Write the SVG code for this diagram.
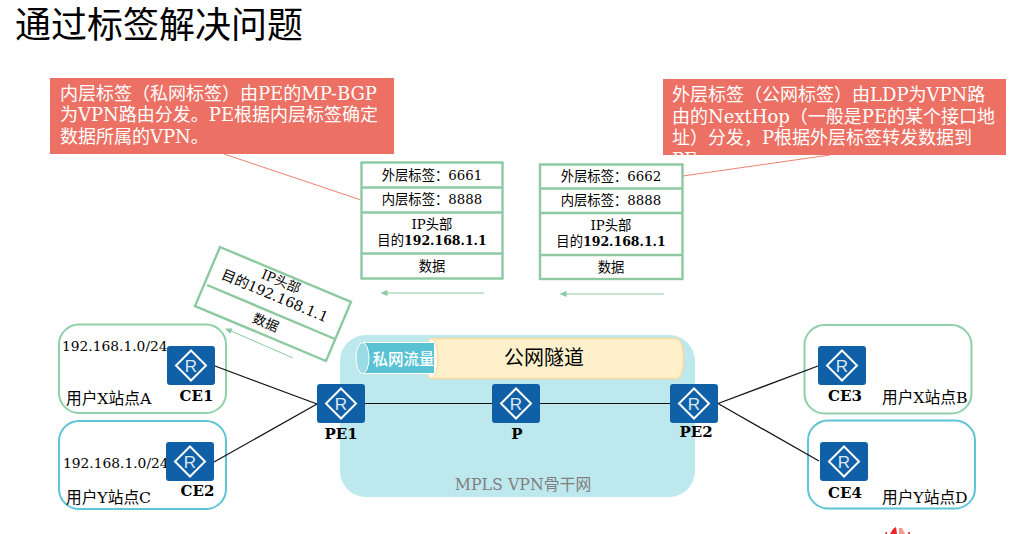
<svg xmlns="http://www.w3.org/2000/svg" width="1027" height="534" viewBox="0 0 1027 534">
<style>
text{font-family:"DejaVu Serif","Noto Sans CJK SC",serif;fill:#000}
.title{font-family:"Noto Sans CJK SC","Noto Sans",sans-serif;font-size:36px}
.call{font-size:18px;fill:#fff}
.cell{font-size:13.33px;text-anchor:middle}
.num{font-size:12.5px;font-weight:bold}
.site{font-size:15.7px}
.ip{font-size:13.8px}
.name{font-size:15px;font-weight:bold;text-anchor:middle}
.rt{fill:#1060a8}
.dia{fill:none;stroke:#fff;stroke-width:2}
.r{font-family:"Liberation Sans",Arial,sans-serif;font-size:17px;fill:#dfe9f5;text-anchor:middle}
.box{fill:#fff;stroke:#8cc9a0;stroke-width:2.4}
.div{stroke:#8cc9a0;stroke-width:2.4;fill:none}
.sg{fill:#fff;stroke:#90d0a8;stroke-width:2}
.sb{fill:#fff;stroke:#5ec4d6;stroke-width:2}
.link{stroke:#111;stroke-width:1.2;fill:none}
.flow{stroke:#8cc9a0;stroke-width:1;fill:none;marker-end:url(#ah)}
</style>
<defs>
<marker id="ah" markerUnits="userSpaceOnUse" markerWidth="7" markerHeight="6" refX="0.5" refY="3" orient="auto"><path d="M7 0L0 3L7 6Z" fill="#8cc9a0" transform="rotate(180 3.5 3)"/></marker>
</defs>

<text class="title" x="15" y="38">通过标签解决问题</text>

<g id="backbone">
<rect x="340" y="335" width="355" height="162" rx="26" fill="#bde8ee"/>
<text x="523" y="490" text-anchor="middle" style="font-size:15.8px;fill:#808080">MPLS VPN骨干网</text>
</g>

<g id="tunnel-public">
<path d="M432 338.500H676C681 338.500 683.500 348 683.500 358.500C683.500 369 681 378.500 676 378.500H432C428 378.500 425.500 369 425.500 358.500C425.500 348 428 338.500 432 338.500Z" fill="#fff0cc" stroke="#fcd999" stroke-width="1.500"/>
<ellipse cx="431.500" cy="358.500" rx="6.500" ry="20" fill="#fffaf0" stroke="#fcd999"/>
<text x="544" y="365" text-anchor="middle" style="font-size:20px">公网隧道</text>
</g>
<g id="tunnel-private">
<path d="M362.500 342.500H434V373.500H362.500Z" fill="#59c3d5"/>
<path d="M362.500 342.500H434M362.500 373.500H434" stroke="#fff" fill="none"/>
<ellipse cx="362.500" cy="358" rx="6.500" ry="15.500" fill="#9bdbe5" stroke="#fff"/>
<text x="403.500" y="365" text-anchor="middle" style="font-size:15.500px;fill:#fff;font-weight:500">私网流量</text>
</g>

<g id="site-a"><rect class="sg" x="59" y="324.500" width="167" height="88.500" rx="20"/>
<text class="ip" x="62" y="351">192.168.1.0/24</text><text class="site" x="66" y="404">用户X站点A</text></g>
<g id="site-c"><rect class="sb" x="59" y="421" width="167" height="88" rx="20"/>
<text class="ip" x="63" y="468">192.168.1.0/24</text><text class="site" x="66" y="503">用户Y站点C</text></g>
<g id="site-b"><rect class="sg" x="804.500" y="325" width="167" height="88.500" rx="20"/>
<text class="site" x="882" y="403">用户X站点B</text></g>
<g id="site-d"><rect class="sb" x="808" y="420.500" width="167" height="88" rx="20"/>
<text class="site" x="882" y="503">用户Y站点D</text></g>

<g id="connectors">
<path class="link" d="M215 366L317 404"/>
<path class="link" d="M214 462L317 404"/>
<path class="link" d="M365 403.500H492"/>
<path class="link" d="M540 403.500H670"/>
<path class="link" d="M718 403.500L818 366"/>
<path class="link" d="M718 403.500L819 461"/>
<path d="M224 154L361 200" stroke="#f08070" stroke-width="1" fill="none"/>
<path d="M683 176L830 155" stroke="#f08070" stroke-width="1" fill="none"/>
<path class="flow" d="M484 293H387"/>
<path class="flow" d="M664 294H566"/>
<path class="flow" d="M293 358L231 331"/>
</g>

<g id="CE1"><rect class="rt" x="167" y="346" width="48" height="39" rx="3"/><path class="dia" d="M191 350.500L206 365.500L191 380.500L176 365.500Z"/><text class="r" x="191" y="371.500">R</text><text class="name" x="196.500" y="401">CE1</text></g>
<g id="CE2"><rect class="rt" x="166" y="442" width="48" height="39" rx="3"/><path class="dia" d="M190 446.500L205 461.500L190 476.500L175 461.500Z"/><text class="r" x="190" y="467.500">R</text><text class="name" x="197.500" y="496">CE2</text></g>
<g id="PE1"><rect class="rt" x="317" y="384" width="48" height="39" rx="3"/><path class="dia" d="M341 388.500L356 403.500L341 418.500L326 403.500Z"/><text class="r" x="341" y="409.500">R</text><text class="name" x="341" y="439">PE1</text></g>
<g id="P"><rect class="rt" x="492" y="384" width="48" height="39" rx="3"/><path class="dia" d="M516 388.500L531 403.500L516 418.500L501 403.500Z"/><text class="r" x="516" y="409.500">R</text><text class="name" x="517" y="439">P</text></g>
<g id="PE2"><rect class="rt" x="670" y="384" width="48" height="39" rx="3"/><path class="dia" d="M694 388.500L709 403.500L694 418.500L679 403.500Z"/><text class="r" x="694" y="409.500">R</text><text class="name" x="696" y="437">PE2</text></g>
<g id="CE3"><rect class="rt" x="818" y="346" width="48" height="39" rx="3"/><path class="dia" d="M842 350.500L857 365.500L842 380.500L827 365.500Z"/><text class="r" x="842" y="371.500">R</text><text class="name" x="845" y="401">CE3</text></g>
<g id="CE4"><rect class="rt" x="820" y="442" width="48" height="39" rx="3"/><path class="dia" d="M844 446.500L859 461.500L844 476.500L829 461.500Z"/><text class="r" x="844" y="467.500">R</text><text class="name" x="845" y="498">CE4</text></g>

<g id="callout-inner">
<rect x="50" y="78" width="344" height="76" fill="#ec7063"/>
<text class="call" x="60" y="100">内层标签（私网标签）由PE的MP-BGP</text>
<text class="call" x="60" y="121">为VPN路由分发。PE根据内层标签确定</text>
<text class="call" x="60" y="143">数据所属的VPN。</text>
</g>
<g id="callout-outer">
<rect x="663" y="79" width="343" height="76" fill="#ec7063"/>
<text class="call" x="672" y="101">外层标签（公网标签）由LDP为VPN路</text>
<text class="call" x="672" y="123">由的NextHop（一般是PE的某个接口地</text>
<text class="call" x="672" y="144">址）分发，P根据外层标签转发数据到</text>
<text class="call" x="672" y="166">PE</text>
</g>

<g id="stack-1">
<rect class="box" x="361.500" y="162.500" width="141" height="116"/>
<path class="div" d="M361 187.500H503M361 212.500H503M361 253.500H503"/>
<text class="cell" x="432" y="180">外层标签：6661</text>
<text class="cell" x="432" y="204">内层标签：8888</text>
<text class="cell" x="432" y="229">IP头部</text>
<text class="cell" x="432" y="245">目的<tspan class="num">192.168.1.1</tspan></text>
<text class="cell" x="432" y="271">数据</text>
</g>
<g id="stack-2">
<rect class="box" x="540" y="164.500" width="142.500" height="114.500"/>
<path class="div" d="M539 188.500H683M539 213H683M539 255H683"/>
<text class="cell" x="611" y="181">外层标签：6662</text>
<text class="cell" x="611" y="205">内层标签：8888</text>
<text class="cell" x="611" y="230">IP头部</text>
<text class="cell" x="611" y="246">目的<tspan class="num">192.168.1.1</tspan></text>
<text class="cell" x="611" y="272">数据</text>
</g>
<g id="packet">
<path class="box" d="M220 247L351 302L326 361L195 306Z"/>
<path class="div" d="M207 285L335 339"/>
<g transform="translate(276 293) rotate(22.800)">
<text class="cell" x="0" y="-8">IP头部</text>
<text class="cell" x="0" y="8" style="font-size:14.2px">目的192.168.1.1</text>
<text class="cell" x="2" y="36">数据</text>
</g>
</g>
<g id="logo-fragment">
<path d="M885 534L886 532H887L887 534Z" fill="#e8262a"/>
<path d="M890 534L893 529L896 527L897 534Z" fill="#e8262a"/>
<path d="M899 534L899 528L902 528L905 534Z" fill="#f59a8e"/>
<path d="M908 534L908 532H910L910 534Z" fill="#e8504a"/>
</g>
</svg>
